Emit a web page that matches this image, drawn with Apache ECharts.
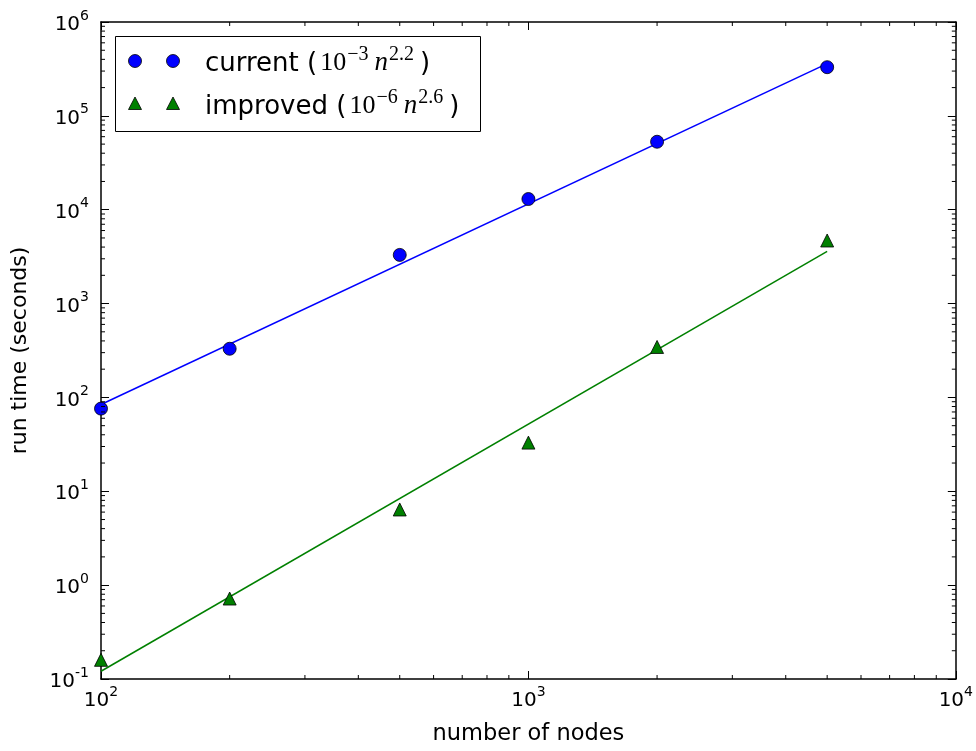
<!DOCTYPE html>
<html>
<head>
<meta charset="utf-8">
<script src="https://cdn.jsdelivr.net/npm/echarts@6/dist/echarts.min.js"></script>
<style>
html,body{margin:0;padding:0;background:#fff;}
#c{width:976px;height:751px;}
</style>
</head>
<body>
<div id="c"></div>
<script>
// Data
var nodes = [100, 200, 500, 1000, 2000, 5000];
var currentTimes = [76, 330, 3300, 13000, 53000, 330000];
var improvedTimes = [0.16, 0.72, 6.4, 33, 345, 4700];
var currentFitX = [100, 5000];
var currentFitY = [84, 360000];
var improvedFitX = [100, 5000];
var improvedFitY = [0.121, 3600];
var legendNames = ['current', 'improved'];
var legendCoef = ['\u22123', '\u22126'];
var legendPow = ['2.2', '2.6'];

var xMin = 100, xMax = 10000, yMin = 0.1, yMax = 1e6;

// minor tick positions (2..9 x 10^k)
var xMinor = [], yMinor = [];
for (var k = 2; k < 4; k++) for (var m = 2; m <= 9; m++) xMinor.push(m * Math.pow(10, k));
for (var k2 = -1; k2 < 6; k2++) for (var m2 = 2; m2 <= 9; m2++) yMinor.push(+(m2 * Math.pow(10, k2)).toPrecision(3));

function pairs(xs, ys) { return xs.map(function (x, i) { return [x, ys[i]]; }); }

var chart = echarts.init(document.getElementById('c'), null, {renderer: 'canvas'});

function expLabel(v) {
  var e = Math.round(Math.log10(v));
  return '{b|10}{s|' + e + '}';
}
var labelRich = {
  b: {fontFamily: 'DejaVu Sans', fontSize: 20, color: '#000', lineHeight: 26, verticalAlign: 'bottom'},
  s: {fontFamily: 'DejaVu Sans', fontSize: 14, color: '#000', lineHeight: 14, verticalAlign: 'top'}
};
var axLine = {show: true, lineStyle: {color: '#000', width: 1.5}};
var majTick = {show: true, inside: true, length: 8, lineStyle: {color: '#000', width: 1}};

var minorSeries = {
  type: 'custom',
  silent: true,
  xAxisIndex: 0, yAxisIndex: 0,
  data: xMinor.map(function (v) { return [v, 1, 0]; }).concat(yMinor.map(function (v) { return [1000, v, 1]; })),
  renderItem: function (params, api) {
    var kind = api.value(2);
    var ls = {stroke: '#000', lineWidth: 1};
    if (kind === 0) {
      var v = api.value(0);
      var pb = api.coord([v, yMin]);
      var pt = api.coord([v, yMax]);
      return {type: 'group', children: [
        {type: 'line', shape: {x1: pb[0], y1: pb[1], x2: pb[0], y2: pb[1] - 4}, style: ls},
        {type: 'line', shape: {x1: pt[0], y1: pt[1], x2: pt[0], y2: pt[1] + 4}, style: ls}
      ]};
    } else {
      var w = api.value(1);
      var pl = api.coord([xMin, w]);
      var pr = api.coord([xMax, w]);
      return {type: 'group', children: [
        {type: 'line', shape: {x1: pl[0], y1: pl[1], x2: pl[0] + 4, y2: pl[1]}, style: ls},
        {type: 'line', shape: {x1: pr[0], y1: pr[1], x2: pr[0] - 4, y2: pr[1]}, style: ls}
      ]};
    }
  },
  z: 10
};

var option = {
  animation: false,
  backgroundColor: '#fff',
  grid: {left: 101, right: 18, top: 22, bottom: 65, containLabel: false},
  xAxis: [{
    type: 'log', logBase: 10, min: xMin, max: xMax,
    name: 'number of nodes', nameLocation: 'middle', nameGap: 44,
    nameTextStyle: {fontFamily: 'DejaVu Sans', fontSize: 22.5, color: '#000'},
    axisLine: axLine, axisTick: majTick,
    axisLabel: {formatter: expLabel, rich: labelRich, margin: 6, color: '#000'},
    splitLine: {show: false}
  }, {
    type: 'log', logBase: 10, min: xMin, max: xMax, position: 'top',
    axisLine: axLine, axisTick: majTick, axisLabel: {show: false}, splitLine: {show: false}
  }],
  yAxis: [{
    type: 'log', logBase: 10, min: yMin, max: yMax,
    name: 'run time (seconds)', nameLocation: 'middle', nameGap: 70, nameRotate: 90,
    nameTextStyle: {fontFamily: 'DejaVu Sans', fontSize: 22, color: '#000'},
    axisLine: axLine, axisTick: majTick,
    axisLabel: {formatter: expLabel, rich: labelRich, margin: 12, color: '#000'},
    splitLine: {show: false}
  }, {
    type: 'log', logBase: 10, min: yMin, max: yMax, position: 'right',
    axisLine: axLine, axisTick: majTick, axisLabel: {show: false}, splitLine: {show: false}
  }],
  series: [
    {
      name: 'current fit', type: 'line', data: pairs(currentFitX, currentFitY),
      showSymbol: false, symbol: 'none', lineStyle: {color: '#0000ff', width: 1.5}, z: 2
    },
    {
      name: 'improved fit', type: 'line', data: pairs(improvedFitX, improvedFitY),
      showSymbol: false, symbol: 'none', lineStyle: {color: '#008000', width: 1.5}, z: 2
    },
    {
      name: 'current', type: 'scatter', data: pairs(nodes, currentTimes),
      symbol: 'circle', symbolSize: 13,
      itemStyle: {color: '#0000ff', borderColor: '#000', borderWidth: 0.8, opacity: 1}, z: 3
    },
    {
      name: 'improved', type: 'scatter', data: pairs(nodes, improvedTimes),
      symbol: 'triangle', symbolSize: 13,
      itemStyle: {color: '#008000', borderColor: '#000', borderWidth: 0.8, opacity: 1}, z: 3
    },
    minorSeries
  ],
  graphic: buildLegend()
};

function buildLegend() {
  var els = [];
  els.push({type: 'rect', shape: {x: 115.5, y: 36.5, width: 365, height: 95},
    style: {fill: '#fff', stroke: '#000', lineWidth: 1}, z: 20});
  var rows = [61, 104];
  var colors = ['#0000ff', '#008000'];
  for (var i = 0; i < 2; i++) {
    var cy = rows[i];
    [135, 173].forEach(function (cx) {
      if (i === 0) {
        els.push({type: 'circle', shape: {cx: cx, cy: cy, r: 6.5},
          style: {fill: colors[0], stroke: '#000', lineWidth: 0.8}, z: 21});
      } else {
        els.push({type: 'polygon', shape: {points: [[cx, cy - 7], [cx - 6.5, cy + 5.5], [cx + 6.5, cy + 5.5]]},
          style: {fill: colors[1], stroke: '#000', lineWidth: 0.8}, z: 21});
      }
    });
    els.push({type: 'text', x: 205, y: cy, z: 21,
      style: {
        text: '{t|' + legendNames[i] + ' (}{m|10}{sup|' + legendCoef[i] + '}{g| }{i|n}{sup|' + legendPow[i] + '}{g| }{t|)}',
        verticalAlign: 'middle', align: 'left',
        rich: {
          t: {fontFamily: 'DejaVu Sans', fontSize: 26, fill: '#000', lineHeight: 32, verticalAlign: 'bottom'},
          m: {fontFamily: 'Liberation Serif', fontSize: 26, fill: '#000', lineHeight: 32, verticalAlign: 'bottom', padding: [0, 0, 1, 3]},
          i: {fontFamily: 'Liberation Serif', fontStyle: 'italic', fontSize: 27, fill: '#000', lineHeight: 32, verticalAlign: 'bottom', padding: [0, 0, 1, 0]},
          g: {fontFamily: 'Liberation Serif', fontSize: 24, fill: '#000', lineHeight: 32, verticalAlign: 'bottom'},
          sup: {fontFamily: 'Liberation Serif', fontSize: 20, fill: '#000', lineHeight: 20, verticalAlign: 'top', padding: [0, 0, 0, 1]}
        }
      }
    });
  }
  return els;
}

chart.setOption(option);
</script>
</body>
</html>
